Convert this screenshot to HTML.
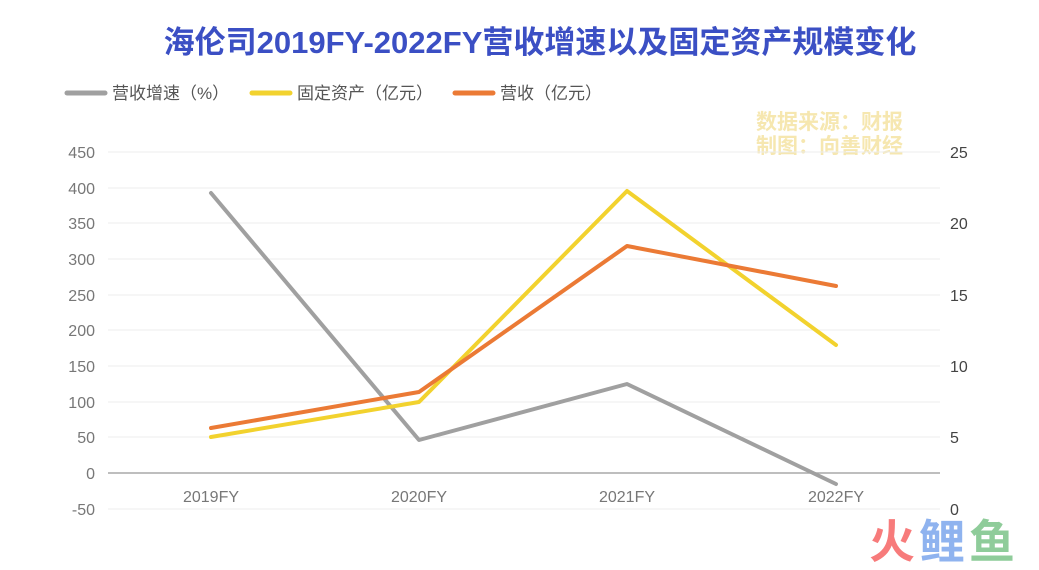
<!DOCTYPE html>
<html><head><meta charset="utf-8"><style>
body{margin:0;background:#fff;width:1039px;height:565px;overflow:hidden;font-family:"Liberation Sans","Noto Sans CJK SC",sans-serif;}
</style></head><body>
<svg width="1039" height="565" xmlns="http://www.w3.org/2000/svg" font-family="Liberation Sans, Noto Sans CJK SC, sans-serif">
<text x="540" y="53" text-anchor="middle" font-size="31" font-weight="bold" fill="#3b4fc4">海伦司2019FY-2022FY营收增速以及固定资产规模变化</text>
<g font-size="17" fill="#555">
<line x1="67" y1="93" x2="105" y2="93" stroke="#a0a0a0" stroke-width="5" stroke-linecap="round"/>
<text x="112" y="99">营收增速（%）</text>
<line x1="252" y1="93" x2="290" y2="93" stroke="#f2d22e" stroke-width="5" stroke-linecap="round"/>
<text x="297" y="99">固定资产（亿元）</text>
<line x1="455" y1="93" x2="493" y2="93" stroke="#eb7a35" stroke-width="5" stroke-linecap="round"/>
<text x="500" y="99">营收（亿元）</text>
</g>
<g font-size="21" fill="#f6e7b0" font-weight="bold">
<text x="756" y="129">数据来源：财报</text>
<text x="756" y="153">制图：向善财经</text>
</g>
<g stroke="#ececec" stroke-width="1">
<line x1="108" y1="152" x2="940" y2="152"/><line x1="108" y1="188" x2="940" y2="188"/>
<line x1="108" y1="223" x2="940" y2="223"/><line x1="108" y1="259" x2="940" y2="259"/>
<line x1="108" y1="295" x2="940" y2="295"/><line x1="108" y1="330" x2="940" y2="330"/>
<line x1="108" y1="366" x2="940" y2="366"/><line x1="108" y1="402" x2="940" y2="402"/>
<line x1="108" y1="437" x2="940" y2="437"/><line x1="108" y1="509" x2="940" y2="509"/>
</g>
<line x1="108" y1="473" x2="940" y2="473" stroke="#a8a8a8" stroke-width="1.5"/>
<g font-size="16" fill="#777" text-anchor="end">
<text x="95" y="158">450</text><text x="95" y="194">400</text><text x="95" y="229">350</text>
<text x="95" y="265">300</text><text x="95" y="301">250</text><text x="95" y="336">200</text>
<text x="95" y="372">150</text><text x="95" y="408">100</text><text x="95" y="443">50</text>
<text x="95" y="479">0</text><text x="95" y="515">-50</text>
</g>
<g font-size="16" fill="#444">
<text x="950" y="158">25</text><text x="950" y="229">20</text><text x="950" y="301">15</text>
<text x="950" y="372">10</text><text x="950" y="443">5</text><text x="950" y="515">0</text>
</g>
<g font-size="16" fill="#777" text-anchor="middle">
<text x="211" y="502">2019FY</text><text x="419" y="502">2020FY</text>
<text x="627" y="502">2021FY</text><text x="836" y="502">2022FY</text>
</g>
<g fill="none" stroke-width="4" stroke-linecap="round" stroke-linejoin="round">
<polyline points="211,193 419,440 627,384 836,484" stroke="#a0a0a0"/>
<polyline points="211,437 419,402 627,191 836,345" stroke="#f2d22e"/>
<polyline points="211,428 419,392 627,246 836,286" stroke="#eb7a35"/>
</g>
<g font-size="46" font-weight="bold">
<text x="869" y="558" fill="#f77b7b">火</text>
<text x="919" y="558" fill="#8fb3ef">鲤</text>
<text x="969" y="558" fill="#8fcc9a">鱼</text>
</g>
</svg>
</body></html>
